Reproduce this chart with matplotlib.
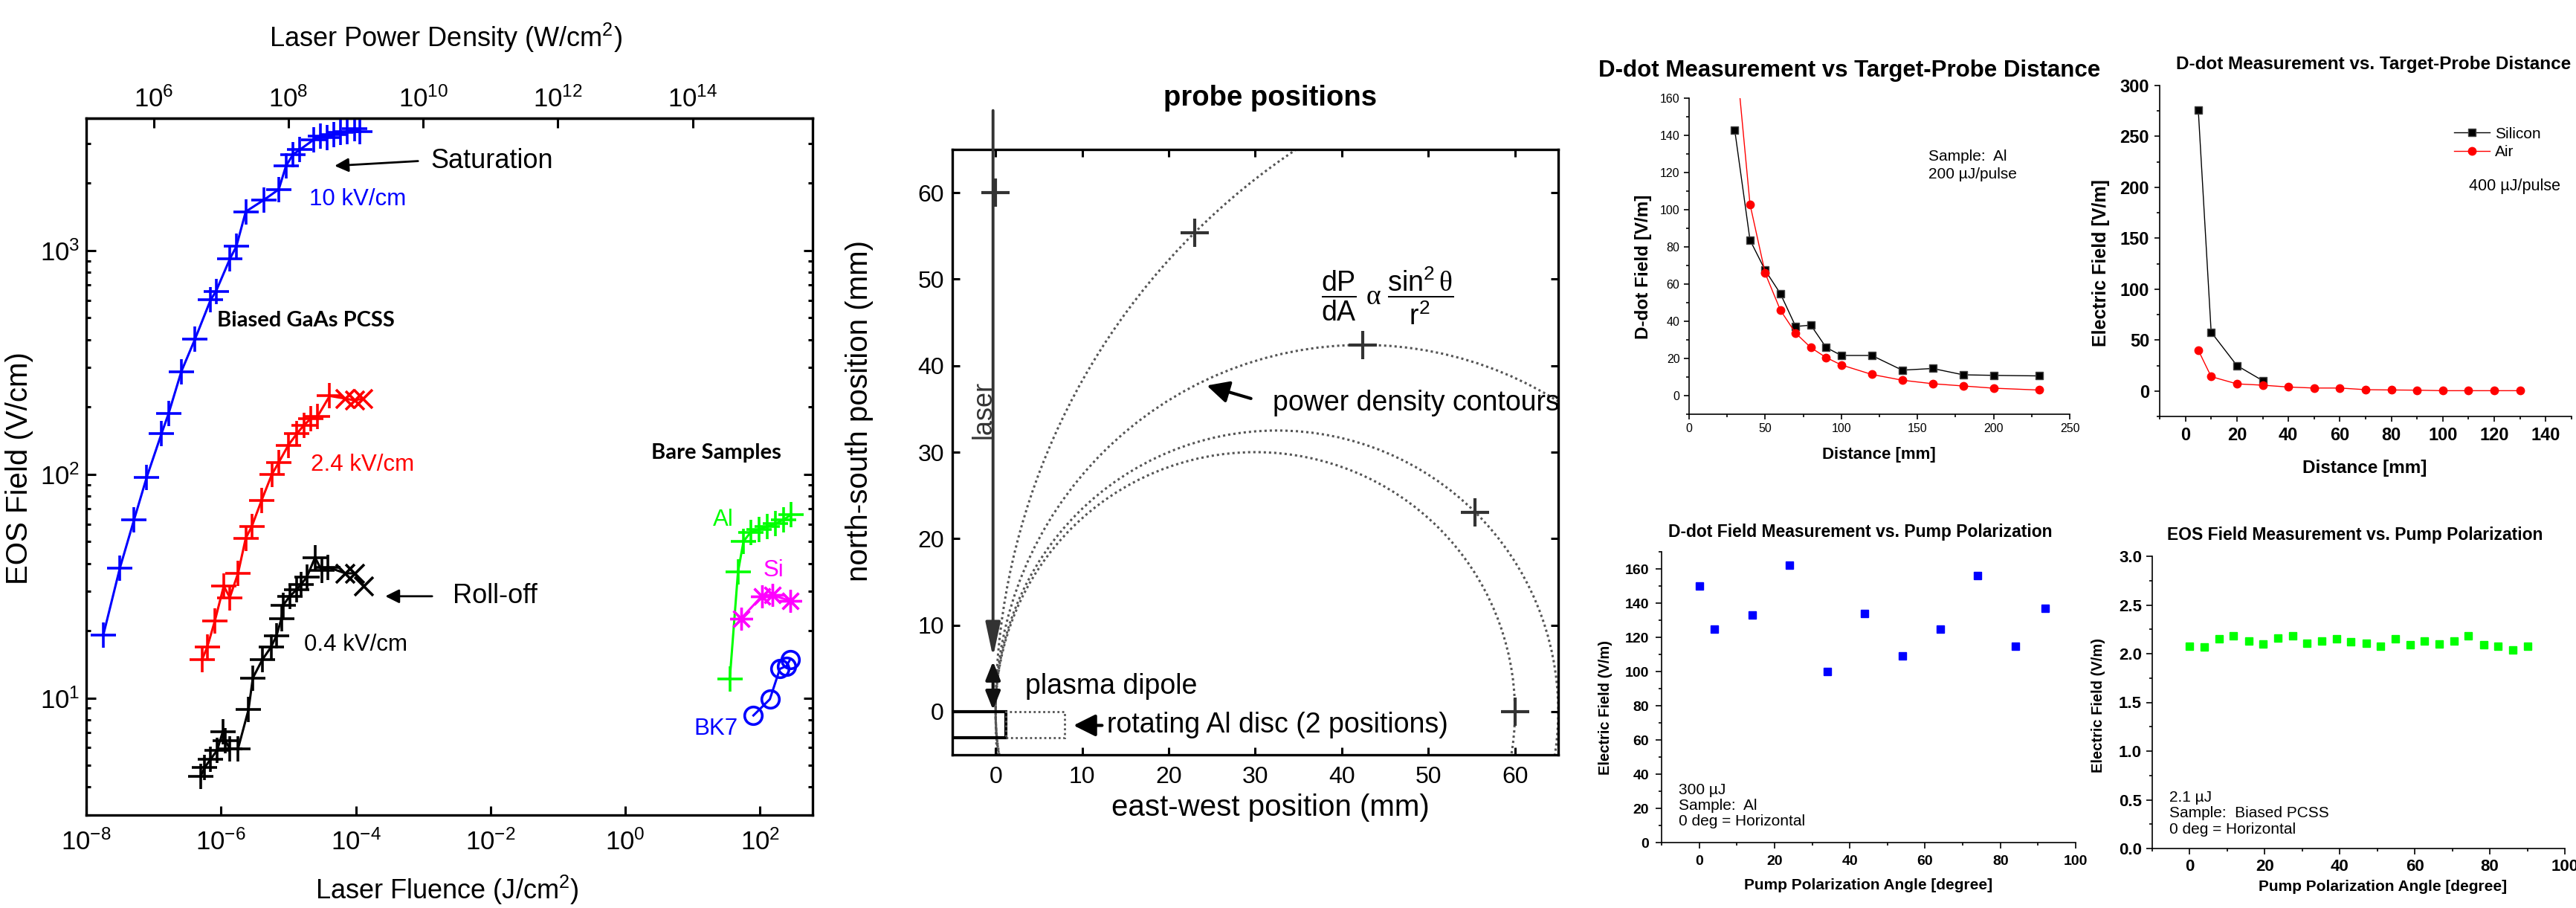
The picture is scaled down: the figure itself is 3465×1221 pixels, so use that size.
import numpy as np
import matplotlib
matplotlib.use("Agg")
import matplotlib.pyplot as plt
from matplotlib.patches import Circle, Rectangle
from matplotlib.ticker import (MultipleLocator, NullLocator, LogLocator,
                               FuncFormatter, NullFormatter, FormatStrFormatter)

# ==============================
# DATA
# ==============================
# --- panel 1 : EOS field vs laser fluence (log-log) ---
fluence_10kv = [1.79e-8, 3.15e-8, 5.13e-8, 7.9e-8, 1.31e-7, 1.67e-7, 2.58e-7, 4.13e-7,
                7.0e-7, 8.45e-7, 1.35e-6, 1.69e-6, 2.33e-6, 4.33e-6, 7.2e-6, 9.2e-6,
                1.17e-5, 1.47e-5, 2.35e-5, 3.0e-5, 3.77e-5, 4.7e-5, 6.0e-5, 7.55e-5,
                9.6e-5, 1.16e-4]
field_10kv = [19.1, 38, 62.7, 97, 152, 187, 288, 403, 601, 658, 915, 1043, 1492, 1683,
              1875, 2384, 2684, 2818, 3120, 3251, 3206, 3304, 3366, 3404, 3509, 3404]

fluence_24kv = [5.27e-7, 6.25e-7, 8.1e-7, 1.1e-6, 1.35e-6, 1.79e-6, 2.33e-6, 2.86e-6,
                4.0e-6, 5.7e-6, 7.2e-6, 1.0e-5, 1.34e-5, 1.71e-5, 2.14e-5, 2.73e-5, 4.1e-5]
field_24kv = [14.9, 16.9, 22.1, 31.7, 28.1, 36.1, 51.8, 58.4, 76.4, 100, 113, 135, 152,
              166, 177, 182, 224]
fluence_24kv_x = [6.9e-5, 9.6e-5, 1.28e-4]
field_24kv_x = [218, 214, 218]

fluence_04kv = [4.99e-7, 5.69e-7, 7.0e-7, 8.77e-7, 1.06e-6, 1.16e-6, 1.35e-6, 1.79e-6,
                2.56e-6, 2.97e-6, 4.09e-6, 5.53e-6, 6.67e-6, 7.9e-6, 8.36e-6, 1.05e-5,
                1.34e-5, 1.53e-5, 1.88e-5, 2.49e-5, 3.12e-5, 3.9e-5]
field_04kv = [4.46, 4.88, 5.33, 5.84, 7.06, 6.46, 5.94, 5.94, 8.87, 12.3, 14.8, 16.9,
              19.0, 22.7, 26.0, 28.5, 30.6, 32.1, 34.7, 42.5, 37.2, 38.4]
fluence_04kv_x = [7.0e-5, 9.6e-5, 1.32e-4]
field_04kv_x = [36.1, 36.1, 31.7]

fluence_al = [35.6, 47.1, 56.9, 72.6, 96, 128, 169, 224, 286]
field_al = [12.2, 36.6, 50.2, 55, 56.6, 58.4, 60.1, 62.7, 65.8]
fluence_si = [52.7, 106, 154, 281]
field_si = [22.7, 28.5, 28.8, 27.2]
fluence_bk7 = [79.8, 140, 197, 247, 281]
field_bk7 = [8.36, 9.88, 13.5, 13.9, 14.9]

# --- panel 2 : probe positions ---
probe_x = [0, 23, 42.4, 55.4, 60]
probe_y = [60, 55.4, 42.4, 23, 0]
contour_centers = [30, 32.5, 42.4, 78.2]   # circles tangent to the dipole axis

# --- panel 3 : D-dot vs distance (Al, 200 uJ) ---
dist_black = [30, 40, 50, 60, 70, 80, 90, 100, 120, 140, 160, 180, 200, 230]
ddot_black = [142.8, 83.7, 67.4, 54.8, 37.2, 37.9, 25.9, 21.6, 21.6, 13.7, 14.6, 11.2, 10.9, 10.6]
dist_red = [30, 40, 50, 60, 70, 80, 90, 100, 120, 140, 160, 180, 200, 230]
ddot_red = [190, 103, 65.8, 45.9, 33.6, 25.8, 20.5, 16.5, 11.4, 8.3, 6.4, 5.2, 4.0, 3.0]

# --- panel 4 : D-dot vs distance (Silicon / Air, 400 uJ) ---
dist_silicon = [5, 10, 20, 30]
field_silicon = [275.8, 57.8, 25, 10.2]
dist_air = [5, 10, 20, 30, 40, 50, 60, 70, 80, 90, 100, 110, 120, 130]
field_air = [40.1, 14.1, 7.0, 5.7, 3.9, 2.9, 2.9, 1.3, 1.0, 0.8, 0.3, 0.3, 0.3, 0.3]

# --- panel 5 : D-dot vs pump polarization ---
pol_angle = [0, 4, 14, 24, 34, 44, 54, 64, 74, 84, 92]
ddot_pol = [150, 125, 133, 162, 100, 134, 109, 125, 156, 115, 137]

# --- panel 6 : EOS vs pump polarization ---
eos_angle = [0, 3.9, 7.8, 11.7, 15.7, 19.6, 23.5, 27.4, 31.3, 35.2, 39.1, 43.0,
             47.0, 50.9, 54.8, 58.7, 62.6, 66.5, 70.4, 74.3, 78.3, 82.2, 86.1, 90.0]
eos_field = [2.08, 2.07, 2.15, 2.18, 2.13, 2.10, 2.16, 2.18, 2.11, 2.13, 2.15, 2.12,
             2.11, 2.08, 2.15, 2.09, 2.13, 2.10, 2.13, 2.18, 2.09, 2.08, 2.04, 2.08]

# ==============================
# SETUP
# ==============================
W, H = 3465, 1221
plt.rcParams["font.family"] = ["Liberation Sans", "DejaVu Sans"]
plt.rcParams["mathtext.default"] = "regular"
plt.rcParams["mathtext.fontset"] = "custom"
plt.rcParams["mathtext.it"] = "Liberation Serif"


def rect(l, t, r, b):
    """pixel box (left, top, right, bottom) -> figure fraction"""
    return [l / W, 1 - b / H, (r - l) / W, (b - t) / H]


def style_origin(ax, labelsize, bold, maj=5, mnr=3, pad=4, lw=1.2):
    for s in ("top", "right"):
        ax.spines[s].set_visible(False)
    for s in ("left", "bottom"):
        ax.spines[s].set_linewidth(lw)
    ax.tick_params(which="both", direction="out", width=lw)
    ax.tick_params(which="major", length=maj, labelsize=labelsize, pad=pad)
    ax.tick_params(which="minor", length=mnr)
    if bold:
        for lab in ax.get_xticklabels() + ax.get_yticklabels():
            lab.set_fontweight("bold")


fig = plt.figure(figsize=(W / 100, H / 100), dpi=100)
pow_fmt = FuncFormatter(lambda v, p: r"$10^{%d}$" % int(round(np.log10(v))))

# ==============================
# PANEL 1
# ==============================
ax1 = fig.add_axes(rect(116, 159, 1093, 1096))
ax1.set_xscale("log")
ax1.set_yscale("log")
pk = dict(lw=2.2, ms=24, mew=2.6)
ax1.plot(fluence_10kv, field_10kv, color="#0000FF", marker="+", **pk)
ax1.plot(fluence_24kv, field_24kv, color="#FF0000", marker="+", **pk)
ax1.plot([fluence_24kv[-1]] + fluence_24kv_x, [field_24kv[-1]] + field_24kv_x,
         color="#FF0000", lw=2.2)
ax1.plot(fluence_24kv_x, field_24kv_x, ls="none", color="#FF0000", marker="x", ms=18, mew=2.6)
ax1.plot(fluence_04kv, field_04kv, color="black", marker="+", **pk)
ax1.plot([fluence_04kv[-1]] + fluence_04kv_x, [field_04kv[-1]] + field_04kv_x,
         color="black", lw=2.2)
ax1.plot(fluence_04kv_x, field_04kv_x, ls="none", color="black", marker="x", ms=18, mew=2.6)
ax1.plot(fluence_al, field_al, color="#00FF00", marker="+", **pk)
ax1.plot(fluence_si, field_si, color="#FF00FF", marker=(8, 2, 0), lw=2.2, ms=22, mew=2.4)
ax1.plot(fluence_bk7, field_bk7, color="#0000FF", marker="o", mfc="none", lw=2.2, ms=17, mew=2.6)

ax1.set_xlim(1e-8, 10 ** 2.78)
ax1.set_ylim(3, 3900)
ax1.set_xticks([1e-8, 1e-6, 1e-4, 1e-2, 1, 1e2])
ax1.xaxis.set_minor_locator(NullLocator())
ax1.xaxis.set_major_formatter(pow_fmt)
ax1.yaxis.set_major_locator(LogLocator(base=10, numticks=10))
ax1.yaxis.set_minor_locator(LogLocator(base=10, subs=np.arange(2, 10), numticks=12))
ax1.yaxis.set_major_formatter(pow_fmt)
ax1.yaxis.set_minor_formatter(NullFormatter())
ax1.tick_params(which="both", direction="in", top=False, right=True, width=2.2, labelsize=25)
ax1.tick_params(which="major", length=9)
ax1.tick_params(which="minor", length=4.5)
ax1.tick_params(axis="x", pad=14)
ax1.tick_params(axis="y", pad=6)
for s in ax1.spines.values():
    s.set_linewidth(2.4)

sec = ax1.secondary_xaxis("top", functions=(lambda f: f * 1e13, lambda p: p / 1e13))
sec.set_xticks([1e6, 1e8, 1e10, 1e12, 1e14])
sec.xaxis.set_minor_locator(NullLocator())
sec.xaxis.set_major_formatter(pow_fmt)
sec.tick_params(direction="in", length=9, width=2.2, labelsize=25, pad=6)
sec.spines["top"].set_linewidth(2.4)

fig.text(599 / W, 1 - 51 / H, "Laser Power Density (W/cm$^2$)", ha="center", va="center",
         fontsize=26)
fig.text(601 / W, 1 - 1219 / H, "Laser Fluence (J/cm$^2$)", ha="center", va="bottom",
         fontsize=26)
ax1.set_ylabel("EOS Field (V/cm)", fontsize=29, va="center")
ax1.yaxis.set_label_coords(-0.092, 0.498)

ax1.text(1.29e-3, 2510, "Saturation", fontsize=26, va="center")
ax1.annotate("", xy=(4.86e-5, 2390), xytext=(8.4e-4, 2510),
             arrowprops=dict(arrowstyle="-|>", color="black", lw=2, mutation_scale=28,
                             shrinkA=0, shrinkB=0))
ax1.text(2.05e-5, 1690, "10 kV/cm", fontsize=22.5, va="center", color="#0000FF")
ax1.text(8.8e-7, 485, "Biased GaAs PCSS", fontsize=21, va="center", fontweight="bold",
         family=["Lato", "Liberation Sans"])
ax1.text(2.15e-5, 110, "2.4 kV/cm", fontsize=22.5, va="center", color="#FF0000")
ax1.text(2.77e-3, 28.5, "Roll-off", fontsize=26, va="center")
ax1.annotate("", xy=(2.74e-4, 28.5), xytext=(1.36e-3, 28.5),
             arrowprops=dict(arrowstyle="-|>", color="black", lw=2, mutation_scale=28,
                             shrinkA=0, shrinkB=0))
ax1.text(1.71e-5, 17.3, "0.4 kV/cm", fontsize=22.5, va="center", color="black")
ax1.text(2.45, 125, "Bare Samples", fontsize=21, va="center", fontweight="bold",
         family=["Lato", "Liberation Sans"])
ax1.text(20.2, 62.7, "Al", fontsize=22.5, va="center", color="#00FF00")
ax1.text(113, 37.2, "Si", fontsize=22.5, va="center", color="#FF00FF")
ax1.text(10.4, 7.28, "BK7", fontsize=22.5, va="center", color="#0000FF")

# ==============================
# PANEL 2
# ==============================
ax2 = fig.add_axes(rect(1281, 201, 2096, 1015))
gray = "#333333"
for c in contour_centers:
    ax2.add_patch(Circle((c, 0), c, fill=False, ls=(0, (1, 1.3)), lw=2.2, ec="#555555"))
ax2.plot(probe_x, probe_y, ls="none", marker="+", ms=28, mew=3, color=gray)
ax2.annotate("", xy=(-0.3, 6.3), xytext=(-0.3, 69.5), annotation_clip=False,
             arrowprops=dict(arrowstyle="-|>,head_length=0.7,head_width=0.15", lw=2.8,
                             color=gray, mutation_scale=40, shrinkA=0, shrinkB=0))
ax2.annotate("", xy=(-0.3, 0.2), xytext=(-0.3, 5.8),
             arrowprops=dict(arrowstyle="<|-|>,head_length=0.5,head_width=0.2", lw=3,
                             color="#111111", mutation_scale=30, shrinkA=0, shrinkB=0))
ax2.add_patch(Rectangle((-5, -3), 6.2, 3, fill=False, lw=3, ec="black"))
ax2.add_patch(Rectangle((1.2, -3), 6.8, 3, fill=False, lw=2, ls=(0, (1, 1.3)), ec="#555555"))
ax2.annotate("", xy=(9.0, -1.6), xytext=(12.3, -1.6),
             arrowprops=dict(arrowstyle="-|>,head_length=0.6,head_width=0.3", lw=3,
                             color="black", mutation_scale=30, shrinkA=0, shrinkB=0))
ax2.text(12.9, -1.55, "rotating Al disc (2 positions)", fontsize=27, va="center")
ax2.text(3.4, 2.9, "plasma dipole", fontsize=27, va="center")
ax2.text(-1.4, 34.9, "laser", fontsize=26, rotation=90, ha="center", va="center", color=gray)
ax2.text(45.3, 48.1, r"$\dfrac{dP}{dA}\ \mathit{\alpha}\ \dfrac{sin^2\,\mathit{\theta}}{r^2}$",
         fontsize=27, ha="center", va="center")
ax2.text(32, 35.7, "power density contours", fontsize=27, va="center")
ax2.annotate("", xy=(24.4, 37.7), xytext=(29.5, 36.2),
             arrowprops=dict(arrowstyle="-|>,head_length=0.6,head_width=0.3", lw=3,
                             color="black", mutation_scale=30, shrinkA=0, shrinkB=0))
ax2.set_xlim(-5, 65)
ax2.set_ylim(-5, 65)
ax2.set_xticks(range(0, 61, 10))
ax2.set_yticks(range(0, 61, 10))
ax2.tick_params(direction="in", top=True, right=True, length=7, width=2.2, labelsize=23)
ax2.tick_params(axis="x", pad=11)
ax2.tick_params(axis="y", pad=8)
for s in ax2.spines.values():
    s.set_linewidth(2.4)
ax2.set_title("probe positions", fontsize=27.5, fontweight="bold", x=0.525, y=1.075, va="center")
ax2.set_xlabel("east-west position (mm)", fontsize=29, va="center")
ax2.xaxis.set_label_coords(0.525, -0.087)
ax2.set_ylabel("north-south position (mm)", fontsize=29, va="center")
ax2.yaxis.set_label_coords(-0.153, 0.568)

# ==============================
# PANEL 3 (top left of the right block)
# ==============================
ax3 = fig.add_axes(rect(2272, 132, 2784, 557))
ax3.plot(dist_black, ddot_black, color="black", lw=1, marker="s", ms=6.5, mfc="black", mec="#444444")
ax3.plot(dist_red, ddot_red, color="#FF0000", lw=1, marker="o", ms=7.5)
ax3.set_xlim(0, 250)
ax3.set_ylim(-10, 160)
ax3.xaxis.set_major_locator(MultipleLocator(50))
ax3.xaxis.set_minor_locator(MultipleLocator(25))
ax3.yaxis.set_major_locator(MultipleLocator(20))
ax3.yaxis.set_minor_locator(MultipleLocator(10))
style_origin(ax3, labelsize=11.5, bold=False, maj=5, mnr=3, pad=4)
ax3.set_title("D-dot Measurement vs Target-Probe Distance", fontsize=22.5, fontweight="bold",
              x=0.422, y=1.068, va="center")
ax3.set_ylabel("D-dot Field [V/m]", fontsize=17.5, fontweight="bold", va="center")
ax3.yaxis.set_label_coords(-0.121, 0.466)
ax3.set_xlabel("Distance [mm]", fontsize=16, fontweight="bold", va="center")
ax3.xaxis.set_label_coords(0.498, -0.129)
ax3.text(157, 128.8, "Sample:  Al", fontsize=15, va="center")
ax3.text(157, 118.8, "200 µJ/pulse", fontsize=15, va="center")

# ==============================
# PANEL 4 (top right)
# ==============================
ax4 = fig.add_axes(rect(2905, 115, 3459, 560))
ax4.plot(dist_silicon, field_silicon, color="black", lw=1, marker="s", ms=6.5,
         mfc="black", mec="#444444", label="Silicon")
ax4.plot(dist_air, field_air, color="#FF0000", lw=1, marker="o", ms=7.5, label="Air")
ax4.set_xlim(-10, 150)
ax4.set_ylim(-25, 300)
ax4.xaxis.set_major_locator(MultipleLocator(20))
ax4.xaxis.set_minor_locator(MultipleLocator(10))
ax4.yaxis.set_major_locator(MultipleLocator(50))
ax4.yaxis.set_minor_locator(MultipleLocator(25))
style_origin(ax4, labelsize=17, bold=True, maj=5, mnr=3, pad=5)
ax4.set_title("D-dot Measurement vs. Target-Probe Distance", fontsize=17.5, fontweight="bold",
              x=0.04, y=1.045, ha="left", va="center")
ax4.set_ylabel("Electric Field [V/m]", fontsize=18, fontweight="bold", va="center")
ax4.yaxis.set_label_coords(-0.143, 0.465)
ax4.set_xlabel("Distance [mm]", fontsize=17.5, fontweight="bold", va="center")
ax4.xaxis.set_label_coords(0.498, -0.157)
ax4.legend(loc="upper left", bbox_to_anchor=(0.715, 0.875), frameon=False, fontsize=15,
           borderpad=0, borderaxespad=0, handlelength=2.3, handletextpad=0.35,
           labelspacing=0.25)
ax4.text(110.1, 200.7, "400 µJ/pulse", fontsize=15.5, va="center")

# ==============================
# PANEL 5 (bottom left)
# ==============================
ax5 = fig.add_axes(rect(2235, 742, 2792, 1133))
ax5.plot(pol_angle, ddot_pol, ls="none", marker="s", ms=7.5, color="#0000FF")
ax5.set_xlim(-10, 100)
ax5.set_ylim(0, 170)
ax5.xaxis.set_major_locator(MultipleLocator(20))
ax5.xaxis.set_minor_locator(MultipleLocator(10))
ax5.yaxis.set_major_locator(MultipleLocator(20))
ax5.yaxis.set_minor_locator(MultipleLocator(10))
style_origin(ax5, labelsize=14, bold=True, maj=6, mnr=3, pad=6)
ax5.set_title("D-dot Field Measurement vs. Pump Polarization", fontsize=16.5, fontweight="bold",
              x=0.48, y=1.046, va="center")
ax5.set_ylabel("Electric Field (V/m)", fontsize=14.5, fontweight="bold", va="center")
ax5.yaxis.set_label_coords(-0.135, 0.465)
ax5.set_xlabel("Pump Polarization Angle [degree]", fontsize=15, fontweight="bold", va="center")
ax5.xaxis.set_label_coords(0.499, -0.146)
ax5.text(-5.5, 21.5, "300 µJ\nSample:  Al\n0 deg = Horizontal", fontsize=15, va="center",
         linespacing=1.15)

# ==============================
# PANEL 6 (bottom right)
# ==============================
ax6 = fig.add_axes(rect(2895, 748, 3450, 1141))
ax6.plot(eos_angle, eos_field, ls="none", marker="s", ms=7, color="#00FF00")
ax6.set_xlim(-10, 100)
ax6.set_ylim(0, 3)
ax6.xaxis.set_major_locator(MultipleLocator(20))
ax6.xaxis.set_minor_locator(MultipleLocator(10))
ax6.yaxis.set_major_locator(MultipleLocator(0.5))
ax6.yaxis.set_minor_locator(MultipleLocator(0.25))
ax6.yaxis.set_major_formatter(FormatStrFormatter("%.1f"))
style_origin(ax6, labelsize=16, bold=True, maj=6, mnr=3, pad=4)
ax6.set_title("EOS Field Measurement vs. Pump Polarization", fontsize=16.5, fontweight="bold",
              x=0.492, y=1.051, va="center")
ax6.set_ylabel("Electric Field (V/m)", fontsize=14.5, fontweight="bold", va="center")
ax6.yaxis.set_label_coords(-0.130, 0.49)
ax6.set_xlabel("Pump Polarization Angle [degree]", fontsize=15, fontweight="bold", va="center")
ax6.xaxis.set_label_coords(0.559, -0.13)
ax6.text(-5.4, 0.36, "2.1 µJ\nSample:  Biased PCSS\n0 deg = Horizontal", fontsize=15,
         va="center", linespacing=1.15)

fig.savefig("out.png", dpi=100)
